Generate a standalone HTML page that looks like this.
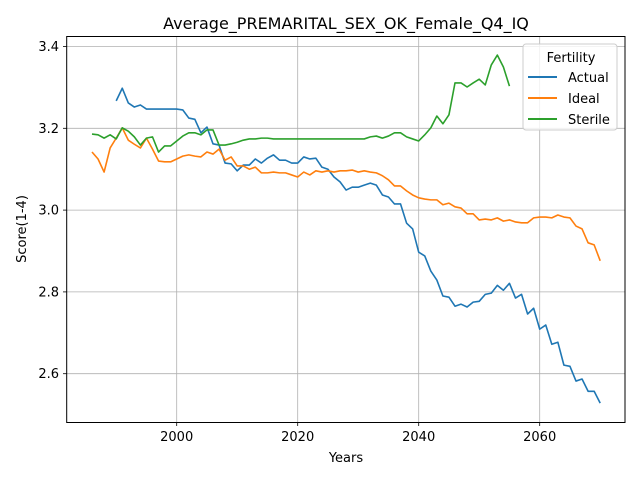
<!DOCTYPE html>
<html><head><meta charset="utf-8"><style>
body{margin:0;background:#fff;}
svg{display:block;font-family:"DejaVu Sans","Liberation Sans",sans-serif;}
</style></head><body>
<svg id="chart" width="640" height="480" viewBox="0 0 640 480">
<rect x="0" y="0" width="640" height="480" fill="#fff"/>
<text x="346" y="29" font-size="16" text-anchor="middle" fill="#000">Average_PREMARITAL_SEX_OK_Female_Q4_IQ</text>
<g id="grid"></g>
<g id="series"></g>
<rect x="66.7" y="36.5" width="558.3" height="386" fill="none" stroke="#000" stroke-width="1"/>
<g id="ticks"></g>
<text x="346" y="462" font-size="13" text-anchor="middle">Years</text>
<text x="0" y="0" font-size="13" text-anchor="middle" transform="translate(26,229) rotate(-90)">Score(1-4)</text>
<g id="legend">
<rect x="523" y="44" width="94" height="86" rx="3" fill="#fff" fill-opacity="0.8" stroke="#ccc"/>
<text x="571" y="62" font-size="13" text-anchor="middle">Fertility</text>
<line x1="528" y1="77" x2="557" y2="77" stroke="#1f77b4" stroke-width="2"/>
<text x="568" y="82" font-size="13">Actual</text>
<line x1="528" y1="98" x2="557" y2="98" stroke="#ff7f0e" stroke-width="2"/>
<text x="568" y="103" font-size="13">Ideal</text>
<line x1="528" y1="119" x2="557" y2="119" stroke="#2ca02c" stroke-width="2"/>
<text x="568" y="124" font-size="13">Sterile</text>
</g>
</svg>
<script>
const xTicks=[2000,2020,2040,2060];
const yTicks=[2.6,2.8,3.0,3.2,3.4];
const yTickLabels=["2.6","2.8","3.0","3.2","3.4"];
const actualStart=1990;
const actualValues=[3.267,3.298,3.262,3.252,3.257,3.247,3.247,3.247,3.247,3.247,3.247,3.245,3.225,3.222,3.189,3.203,3.162,3.159,3.115,3.113,3.096,3.110,3.110,3.125,3.115,3.127,3.135,3.122,3.122,3.115,3.115,3.130,3.125,3.127,3.105,3.100,3.081,3.069,3.049,3.056,3.056,3.061,3.066,3.061,3.037,3.032,3.015,3.015,2.968,2.954,2.897,2.888,2.851,2.829,2.790,2.787,2.765,2.770,2.763,2.775,2.777,2.794,2.797,2.816,2.804,2.821,2.785,2.794,2.746,2.760,2.709,2.719,2.672,2.677,2.621,2.618,2.582,2.587,2.557,2.557,2.528];
const idealStart=1986;
const idealValues=[3.142,3.125,3.093,3.152,3.176,3.201,3.171,3.161,3.152,3.176,3.149,3.120,3.118,3.118,3.125,3.132,3.135,3.132,3.130,3.142,3.137,3.149,3.122,3.130,3.108,3.108,3.100,3.105,3.091,3.091,3.093,3.091,3.091,3.086,3.081,3.093,3.086,3.096,3.093,3.096,3.093,3.096,3.096,3.098,3.093,3.096,3.093,3.091,3.084,3.074,3.059,3.059,3.047,3.037,3.030,3.027,3.025,3.025,3.013,3.017,3.008,3.005,2.991,2.991,2.976,2.978,2.976,2.981,2.973,2.976,2.971,2.969,2.969,2.981,2.983,2.983,2.981,2.988,2.983,2.981,2.961,2.954,2.920,2.915,2.876];
const sterileStart=1986;
const sterileValues=[3.186,3.184,3.176,3.184,3.174,3.201,3.193,3.179,3.159,3.176,3.179,3.142,3.157,3.157,3.169,3.181,3.189,3.189,3.184,3.196,3.196,3.159,3.159,3.162,3.166,3.171,3.174,3.174,3.176,3.176,3.174,3.174,3.174,3.174,3.174,3.174,3.174,3.174,3.174,3.174,3.174,3.174,3.174,3.174,3.174,3.174,3.179,3.181,3.176,3.181,3.189,3.189,3.179,3.174,3.169,3.184,3.201,3.230,3.211,3.233,3.311,3.311,3.301,3.311,3.320,3.306,3.355,3.379,3.350,3.303];
const NS="http://www.w3.org/2000/svg";
function xs(yr){return 176.7+(yr-2000)*6.05;}
function ys(v){return 128.3+(3.2-v)*409;}
function mk(tag,attrs,parent){const e=document.createElementNS(NS,tag);for(const k in attrs)e.setAttribute(k,attrs[k]);parent.appendChild(e);return e;}
const grid=document.getElementById('grid'),ticks=document.getElementById('ticks'),series=document.getElementById('series');
xTicks.forEach(t=>{
  const x=xs(t);
  const g=mk('line',{x1:x,y1:36.5,x2:x,y2:422.5,stroke:'#b0b0b0','stroke-width':0.8},grid);
  
  
  mk('line',{x1:x,y1:422.5,x2:x,y2:426,stroke:'#000','stroke-width':0.8},ticks);
  const tx=mk('text',{x:x,y:441,'font-size':13,'text-anchor':'middle'},ticks);
  tx.textContent=String(t);
  
  
});
yTicks.forEach((t,i)=>{
  const y=ys(t);
  const g=mk('line',{x1:66.7,y1:y,x2:625,y2:y,stroke:'#b0b0b0','stroke-width':0.8},grid);
  
  
  mk('line',{x1:63,y1:y,x2:66.7,y2:y,stroke:'#000','stroke-width':0.8},ticks);
  const tx=mk('text',{x:59,y:y+4.5,'font-size':13,'text-anchor':'end'},ticks);
  tx.textContent=yTickLabels[i];
  
  
});
function draw(start,vals,color,name){
  const pts=vals.map((v,i)=>xs(start+i).toFixed(2)+','+ys(v).toFixed(2)).join(' ');
  const p=mk('polyline',{points:pts,fill:'none',stroke:color,'stroke-width':1.6,'stroke-linejoin':'round'},series);
  
  
}
draw(actualStart,actualValues,'#1f77b4','actual-line');
draw(idealStart,idealValues,'#ff7f0e','ideal-line');
draw(sterileStart,sterileValues,'#2ca02c','sterile-line');
</script>
</body></html>
